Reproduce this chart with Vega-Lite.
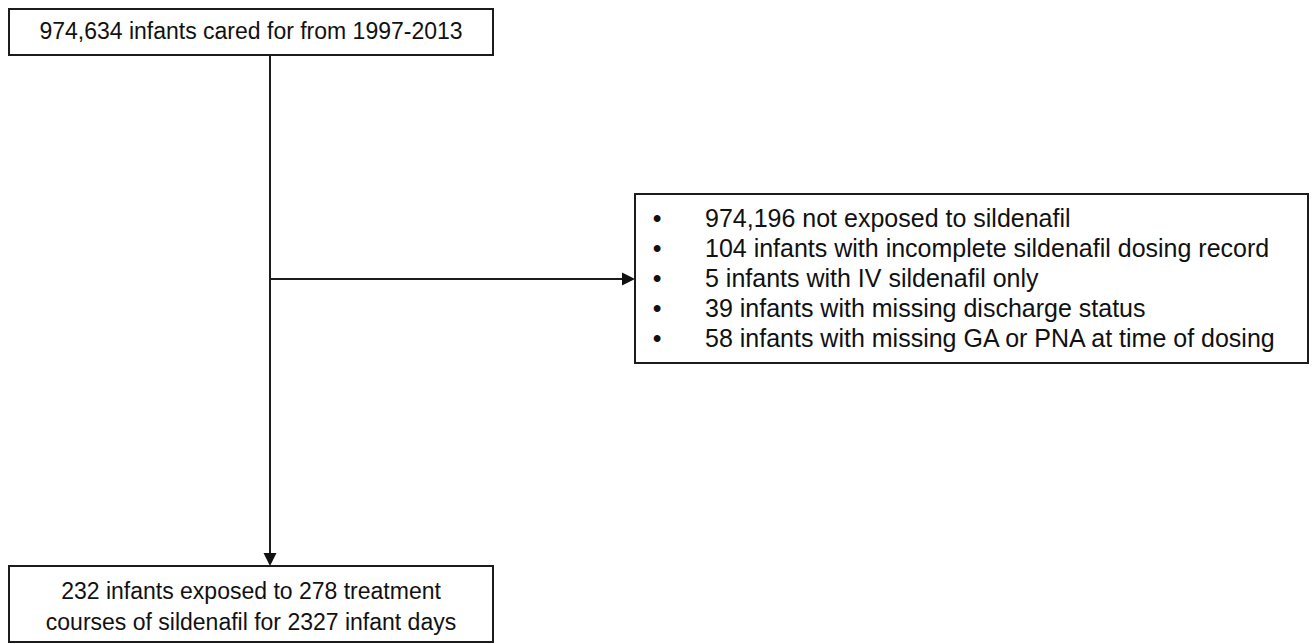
{
  "$schema": "https://vega.github.io/schema/vega-lite/v6.json",
  "width": 1312,
  "height": 644,
  "padding": 0,
  "autosize": {"type": "fit", "contains": "padding"},
  "background": "white",
  "config": {"view": {"stroke": null}},
  "datasets": {
    "boxes": [
      {"box": "start", "x0": 9, "x1": 493, "y0": 9, "y1": 55},
      {"box": "excluded", "x0": 635, "x1": 1308, "y0": 194, "y1": 363},
      {"box": "final", "x0": 9, "x1": 493, "y0": 566, "y1": 642}
    ],
    "lines": [
      {"x0": 270, "x1": 270, "y0": 55, "y1": 560},
      {"x0": 270, "x1": 629, "y0": 279, "y1": 279}
    ],
    "arrows": [
      {"x": 270, "y": 566, "dir": "down"},
      {"x": 635, "y": 279, "dir": "right"}
    ],
    "centerText": [
      {"x": 251, "y": 32, "label": "974,634 infants cared for from 1997-2013"},
      {"x": 251, "y": 592, "label": "232 infants exposed to 278 treatment"},
      {"x": 251, "y": 623, "label": "courses of sildenafil for 2327 infant days"}
    ],
    "listText": [
      {"x": 705, "y": 219, "label": "974,196 not exposed to sildenafil"},
      {"x": 705, "y": 249, "label": "104 infants with incomplete sildenafil dosing record"},
      {"x": 705, "y": 279, "label": "5 infants with IV sildenafil only"},
      {"x": 705, "y": 309, "label": "39 infants with missing discharge status"},
      {"x": 705, "y": 339, "label": "58 infants with missing GA or PNA at time of dosing"}
    ]
  },
  "layer": [
    {
      "data": {"name": "boxes"},
      "mark": {"type": "rect", "fill": "white", "stroke": "#1c1c1c", "strokeWidth": 2},
      "encoding": {
        "x": {"field": "x0", "type": "quantitative", "scale": {"domain": [0, 1312], "nice": false, "zero": false}, "axis": null},
        "x2": {"field": "x1"},
        "y": {"field": "y0", "type": "quantitative", "scale": {"domain": [0, 644], "nice": false, "zero": false, "reverse": true}, "axis": null},
        "y2": {"field": "y1"}
      }
    },
    {
      "data": {"name": "lines"},
      "mark": {"type": "rule", "color": "#1c1c1c", "strokeWidth": 2},
      "encoding": {
        "x": {"field": "x0", "type": "quantitative"},
        "x2": {"field": "x1"},
        "y": {"field": "y0", "type": "quantitative"},
        "y2": {"field": "y1"}
      }
    },
    {
      "data": {"name": "arrows"},
      "mark": {"type": "point", "filled": true, "color": "#111111", "opacity": 1, "size": 169},
      "encoding": {
        "x": {"field": "x", "type": "quantitative"},
        "y": {"field": "y", "type": "quantitative"},
        "shape": {
          "field": "dir",
          "type": "nominal",
          "scale": {"domain": ["down", "right"], "range": ["M0,0L-1,-2L1,-2Z", "M0,0L-2,-1L-2,1Z"]},
          "legend": null
        }
      }
    },
    {
      "data": {"name": "centerText"},
      "mark": {"type": "text", "font": "Liberation Sans", "fontSize": 23, "align": "center", "baseline": "middle", "color": "#111111"},
      "encoding": {
        "x": {"field": "x", "type": "quantitative"},
        "y": {"field": "y", "type": "quantitative"},
        "text": {"field": "label"}
      }
    },
    {
      "data": {"name": "listText"},
      "mark": {"type": "text", "font": "Liberation Sans", "fontSize": 25, "align": "left", "baseline": "middle", "color": "#111111"},
      "encoding": {
        "x": {"field": "x", "type": "quantitative"},
        "y": {"field": "y", "type": "quantitative"},
        "text": {"field": "label"}
      }
    },
    {
      "data": {"name": "listText"},
      "mark": {"type": "text", "font": "Liberation Sans", "fontSize": 25, "align": "center", "baseline": "middle", "color": "#111111", "dx": -48, "text": "•"},
      "encoding": {
        "x": {"field": "x", "type": "quantitative"},
        "y": {"field": "y", "type": "quantitative"}
      }
    }
  ]
}
